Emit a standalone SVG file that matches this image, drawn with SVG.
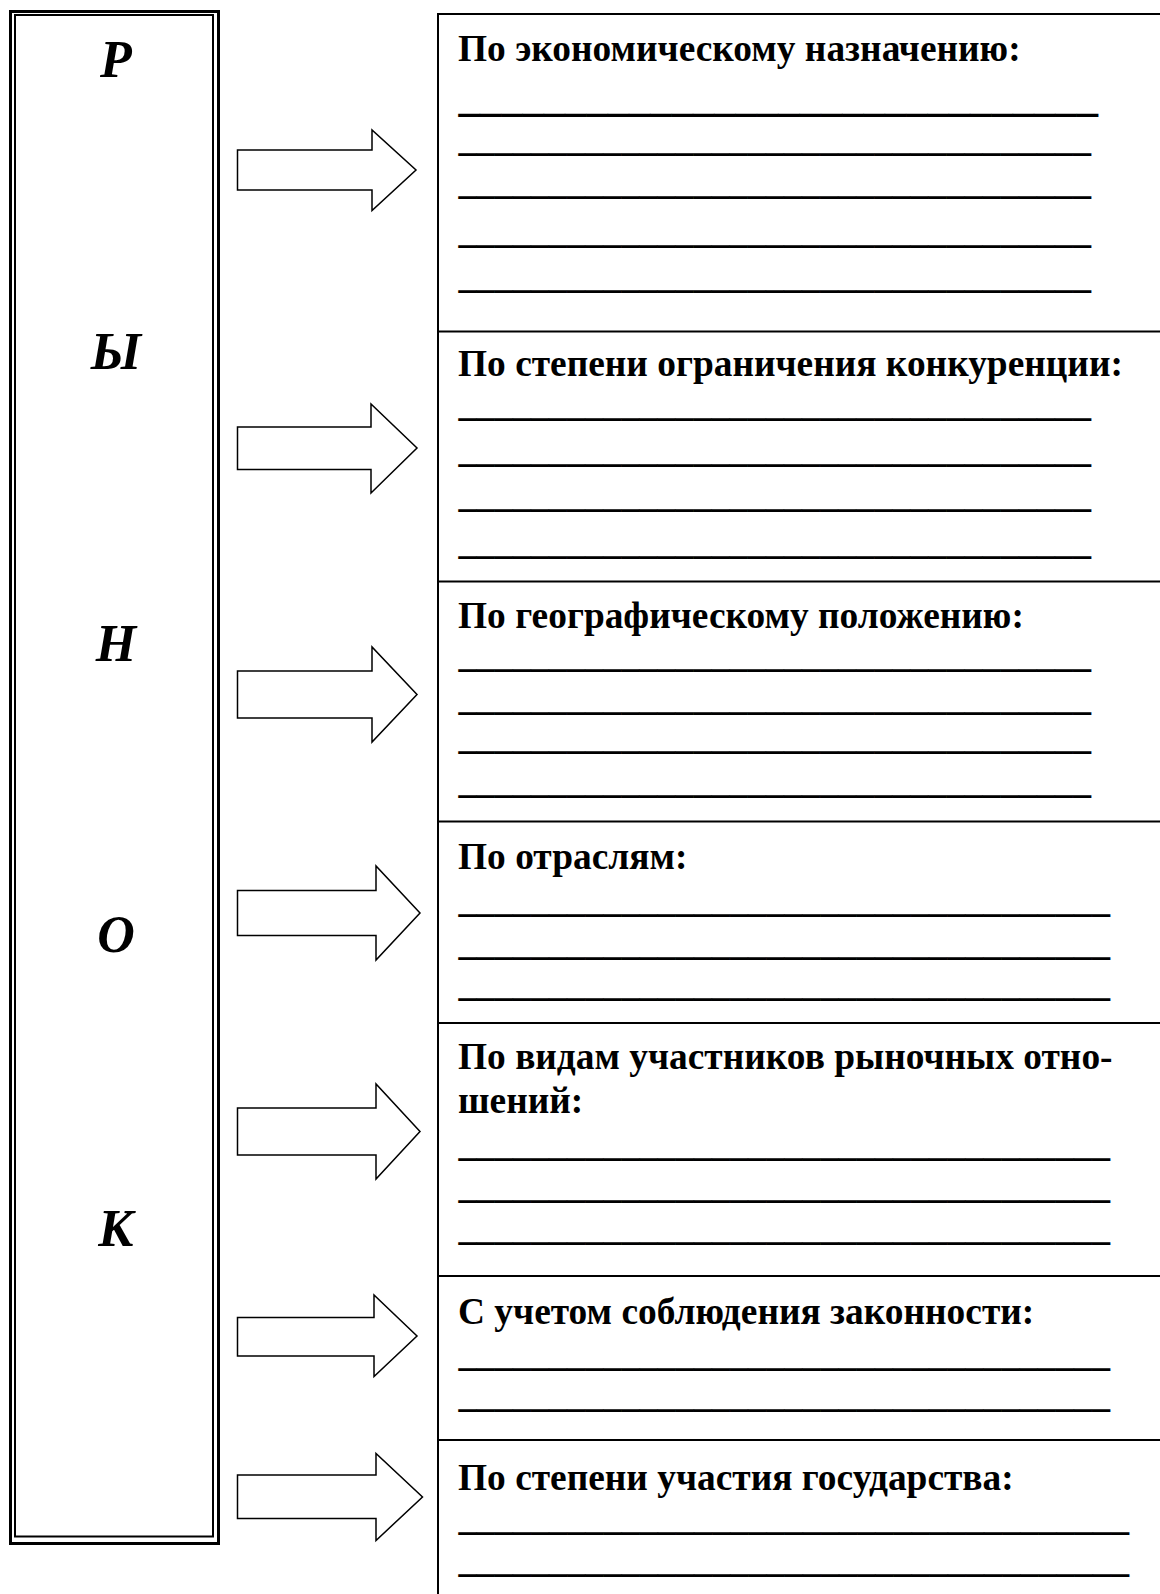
<svg xmlns="http://www.w3.org/2000/svg" width="1160" height="1594" viewBox="0 0 1160 1594">
<style>
.bg{fill:#fff}
.frame{fill:none;stroke:#000}
.letter{font-family:"Liberation Serif","Times New Roman",serif;font-weight:bold;font-style:italic;font-size:52px;fill:#000;text-anchor:middle}
.title{font-family:"Liberation Serif","Times New Roman",serif;font-weight:bold;font-size:37.4px;fill:#000}
.u{font-family:"Liberation Serif","Times New Roman",serif;font-weight:bold;font-size:38px;fill:#000}
.ub{font-family:"Liberation Serif","Times New Roman",serif;font-weight:bold;font-size:44px;fill:#000}
.sep{stroke:#000;stroke-width:2}
.arrow{fill:#fff;stroke:#000;stroke-width:1.5;stroke-linejoin:miter}
</style>
<rect class="bg" x="0" y="0" width="1160" height="1594"/>

<g id="rynok">
  <rect class="frame" x="10.5" y="11.5" width="208" height="1532" stroke-width="3"/>
  <rect class="frame" x="15" y="15" width="198" height="1521.5" stroke-width="2"/>
  <text class="letter" x="116" y="77">Р</text>
  <text class="letter" x="116" y="369">Ы</text>
  <text class="letter" x="116" y="661">Н</text>
  <text class="letter" x="116" y="952">О</text>
  <text class="letter" x="116" y="1246">К</text>
</g>

<g id="panel-frame">
  <line class="sep" x1="438" y1="13" x2="438" y2="1594"/>
  <line class="sep" x1="437" y1="14" x2="1160" y2="14"/>
  <line class="sep" x1="437" y1="331.5" x2="1160" y2="331.5"/>
  <line class="sep" x1="437" y1="581.5" x2="1160" y2="581.5"/>
  <line class="sep" x1="437" y1="821.5" x2="1160" y2="821.5"/>
  <line class="sep" x1="437" y1="1023" x2="1160" y2="1023"/>
  <line class="sep" x1="437" y1="1276" x2="1160" y2="1276"/>
  <line class="sep" x1="437" y1="1440" x2="1160" y2="1440"/>
</g>

<g id="sec-economic">
  <text class="title" x="458" y="61">По экономическому назначению:</text>
  <text class="ub" x="458.5" y="111" textLength="639.5" lengthAdjust="spacingAndGlyphs">______________________________</text>
  <text class="u" x="458.5" y="151" textLength="632.5" lengthAdjust="spacingAndGlyphs">___________________________________</text>
  <text class="u" x="458.5" y="194" textLength="632.5" lengthAdjust="spacingAndGlyphs">___________________________________</text>
  <text class="u" x="458.5" y="242.5" textLength="632.5" lengthAdjust="spacingAndGlyphs">___________________________________</text>
  <text class="u" x="458.5" y="288" textLength="632.5" lengthAdjust="spacingAndGlyphs">___________________________________</text>
</g>

<g id="sec-competition">
  <text class="title" x="458" y="376">По степени ограничения конкуренции:</text>
  <text class="u" x="458.5" y="415.5" textLength="632.5" lengthAdjust="spacingAndGlyphs">___________________________________</text>
  <text class="u" x="458.5" y="462" textLength="632.5" lengthAdjust="spacingAndGlyphs">___________________________________</text>
  <text class="u" x="458.5" y="507" textLength="632.5" lengthAdjust="spacingAndGlyphs">___________________________________</text>
  <text class="u" x="458.5" y="553.5" textLength="632.5" lengthAdjust="spacingAndGlyphs">___________________________________</text>
</g>

<g id="sec-geo">
  <text class="title" x="458" y="628">По географическому положению:</text>
  <text class="u" x="458.5" y="667" textLength="632.5" lengthAdjust="spacingAndGlyphs">___________________________________</text>
  <text class="u" x="458.5" y="709.5" textLength="632.5" lengthAdjust="spacingAndGlyphs">___________________________________</text>
  <text class="u" x="458.5" y="748.5" textLength="632.5" lengthAdjust="spacingAndGlyphs">___________________________________</text>
  <text class="u" x="458.5" y="793" textLength="632.5" lengthAdjust="spacingAndGlyphs">___________________________________</text>
</g>

<g id="sec-branch">
  <text class="title" x="458" y="869">По отраслям:</text>
  <text class="u" x="458.5" y="912" textLength="651.5" lengthAdjust="spacingAndGlyphs">____________________________________</text>
  <text class="u" x="458.5" y="954.5" textLength="651.5" lengthAdjust="spacingAndGlyphs">____________________________________</text>
  <text class="u" x="458.5" y="995.5" textLength="651.5" lengthAdjust="spacingAndGlyphs">____________________________________</text>
</g>

<g id="sec-participants">
  <text class="title" x="458" y="1069">По видам участников рыночных отно-</text>
  <text class="title" x="458" y="1113">шений:</text>
  <text class="u" x="458.5" y="1156" textLength="651.5" lengthAdjust="spacingAndGlyphs">____________________________________</text>
  <text class="u" x="458.5" y="1198" textLength="651.5" lengthAdjust="spacingAndGlyphs">____________________________________</text>
  <text class="u" x="458.5" y="1240" textLength="651.5" lengthAdjust="spacingAndGlyphs">____________________________________</text>
</g>

<g id="sec-legality">
  <text class="title" x="458" y="1324">С учетом соблюдения законности:</text>
  <text class="u" x="458.5" y="1365.5" textLength="651.5" lengthAdjust="spacingAndGlyphs">____________________________________</text>
  <text class="u" x="458.5" y="1407" textLength="651.5" lengthAdjust="spacingAndGlyphs">____________________________________</text>
</g>

<g id="sec-state">
  <text class="title" x="458" y="1490">По степени участия государства:</text>
  <text class="u" x="458.5" y="1530" textLength="670.5" lengthAdjust="spacingAndGlyphs">_____________________________________</text>
  <text class="u" x="458.5" y="1572" textLength="670.5" lengthAdjust="spacingAndGlyphs">_____________________________________</text>
</g>

<g id="connectors">
  <polygon class="arrow" points="237.5,150 372,150 372,130 416,170 372,210.5 372,190 237.5,190"/>
  <polygon class="arrow" points="237.5,427 371,427 371,404 417,448 371,493 371,469.5 237.5,469.5"/>
  <polygon class="arrow" points="237.5,671 372,671 372,647 417,694.5 372,742 372,718 237.5,718"/>
  <polygon class="arrow" points="237.5,890.5 376,890.5 376,866 420,913 376,960 376,935.5 237.5,935.5"/>
  <polygon class="arrow" points="237.5,1108 376,1108 376,1084 420,1131.5 376,1179 376,1155 237.5,1155"/>
  <polygon class="arrow" points="237.5,1317.5 374,1317.5 374,1295 417,1336 374,1376.5 374,1356 237.5,1356"/>
  <polygon class="arrow" points="237.5,1475 376,1475 376,1453.5 422.5,1497 376,1540.5 376,1518.5 237.5,1518.5"/>
</g>
</svg>
